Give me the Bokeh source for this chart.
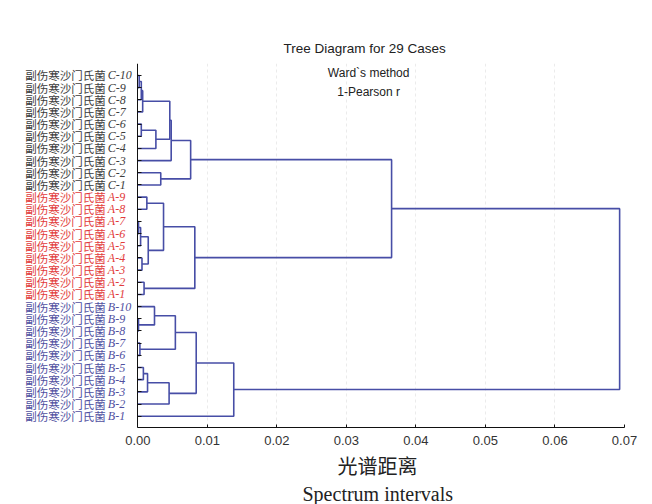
from bokeh.plotting import figure
from bokeh.models import (Range1d, FixedTicker, Label, NumeralTickFormatter, Title,
                          ColumnDataSource)
from bokeh.core.properties import value
from bokeh.embed import file_html
from bokeh.resources import INLINE

# ---------------- data ----------------
strain_name = "副伤寒沙门氏菌"
leaf_codes = ["C-10", "C-9", "C-8", "C-7", "C-6", "C-5", "C-4", "C-3", "C-2", "C-1",
              "A-9", "A-8", "A-7", "A-6", "A-5", "A-4", "A-3", "A-2", "A-1",
              "B-10", "B-9", "B-8", "B-7", "B-6", "B-5", "B-4", "B-3", "B-2", "B-1"]
group_colors = {"C": "#3c3c3c", "A": "#e23b3b", "B": "#50509f"}

# merge k joins merge_left[k] and merge_right[k] at merge_height[k]; "#k" = cluster from merge k
merge_left = ["C-10", "#0", "#1", "C-6", "#3", "#2", "#5", "C-2", "#6",
              "A-9", "A-7", "#10", "A-4", "#11", "#9", "A-2", "#14", "#8",
              "B-9", "B-10", "B-7", "#19", "B-5", "#22", "#23", "#21", "#25", "#17"]
merge_right = ["C-9", "C-8", "C-7", "C-5", "C-4", "#4", "C-3", "C-1", "#7",
               "A-8", "A-6", "A-5", "A-3", "#12", "#13", "A-1", "#15", "#16",
               "B-8", "#18", "B-6", "#20", "B-4", "B-3", "B-2", "#24", "B-1", "#26"]
merge_height = [0.0002, 0.0005, 0.0007, 0.0005, 0.0026, 0.0046, 0.0048, 0.0033, 0.0076,
                0.0013, 0.0001, 0.0004, 0.0006, 0.0015, 0.0037, 0.0009, 0.0082, 0.0365,
                0.0001, 0.0024, 0.0003, 0.0054, 0.0008, 0.0014, 0.0045, 0.0084, 0.0138, 0.0693]
x_ticks = [0.00, 0.01, 0.02, 0.03, 0.04, 0.05, 0.06, 0.07]

title_main = "Tree Diagram for 29 Cases"
title_sub = ["Ward`s method", "1-Pearson r"]
xlabel_cn = "光谱距离"
xlabel_en = "Spectrum intervals"

# ---------------- dendrogram geometry ----------------
pos = {c: float(i) for i, c in enumerate(leaf_codes)}
hgt = {c: 0.0 for c in leaf_codes}
xs, ys = [], []
for k, (a, b, h) in enumerate(zip(merge_left, merge_right, merge_height)):
    ya, yb = pos[a], pos[b]
    xs.append([hgt[a], h, h, hgt[b]])
    ys.append([ya, ya, yb, yb])
    pos["#%d" % k] = (ya + yb) / 2.0
    hgt["#%d" % k] = h

LINE = "#474ea6"
XMIN, XMAX = -0.01975, 0.07        # left part of the frame holds the leaf names
YB, YT = 28.93, -0.98

p = figure(width=652, height=504, output_backend="svg", toolbar_location=None,
           x_range=Range1d(XMIN, XMAX), y_range=Range1d(YB, YT),
           min_border_left=0, min_border_right=28, min_border_top=63,
           min_border_bottom=76)
p.outline_line_color = None
p.background_fill_color = "white"
p.border_fill_color = "white"

p.multi_line(xs=xs, ys=ys, line_color=LINE, line_width=1.6)

# leaf names
src = ColumnDataSource(dict(
    x=[0.0] * len(leaf_codes),
    y=list(range(len(leaf_codes))),
    name=[strain_name] * len(leaf_codes),
    code=leaf_codes,
    color=[group_colors[c[0]] for c in leaf_codes],
))
p.text(x="x", y="y", text="name", source=src, x_offset=-32, text_align="right",
       text_baseline="middle", text_font=value("Noto Sans CJK SC"),
       text_font_size="11.5px", text_color="color")
p.text(x="x", y="y", text="code", source=src, x_offset=-30, text_align="left",
       text_baseline="middle", text_font=value("Liberation Serif"), text_font_style="italic",
       text_font_size="12px", text_color="color")

# title
p.title.text = title_main
p.title.align = "left"
p.title.offset = 283
p.title.standoff = 16
p.title.text_font = "Liberation Sans"
p.title.text_font_size = "13.5px"
p.title.text_font_style = "normal"
p.title.text_color = "#222222"
for t, yy in zip(title_sub, [-0.16, 1.37]):
    p.add_layout(Label(x=0.0332, y=yy, text=t, text_align="center", text_baseline="alphabetic",
                       text_font="Liberation Sans", text_font_size="12px", text_color="#222222"))

# x axis
xa = p.xaxis[0]
xa.bounds = (0, XMAX)
xa.ticker = FixedTicker(ticks=x_ticks)
xa.formatter = NumeralTickFormatter(format="0.00")
xa.major_tick_in = 3
xa.major_tick_out = 0
xa.minor_tick_line_color = None
xa.axis_line_color = "#111111"
xa.major_tick_line_color = "#111111"
xa.major_label_text_font = "Liberation Sans"
xa.major_label_text_font_size = "13px"
xa.major_label_text_color = "#333333"
xa.major_label_standoff = 8

# x-axis titles (Chinese + English), centred under the axis
p.add_layout(Title(text=xlabel_cn, align="left", offset=337, standoff=2,
                   text_font="Noto Sans CJK SC", text_font_size="20px",
                   text_font_style="normal", text_color="#222222"), "below")
p.add_layout(Title(text=xlabel_en, align="left", offset=302, standoff=0,
                   text_font="Liberation Serif", text_font_size="20px",
                   text_font_style="normal", text_color="#222222"), "below")

# y axis placed at distance 0
ya_ = p.yaxis[0]
ya_.fixed_location = 0
ya_.ticker = FixedTicker(ticks=list(range(len(leaf_codes))))
ya_.major_label_overrides = {i: "" for i in range(len(leaf_codes))}
ya_.major_label_text_color = None
ya_.major_label_standoff = 0
ya_.major_tick_in = 4
ya_.major_tick_out = 0
ya_.minor_tick_line_color = None
ya_.axis_line_color = "#111111"
ya_.major_tick_line_color = "#111111"

p.ygrid.grid_line_color = None
p.xgrid.ticker = FixedTicker(ticks=x_ticks[1:-1])
p.xgrid.grid_line_color = "#ebebeb"
p.xgrid.grid_line_dash = "3 3"

open("out.html", "w").write(file_html(p, INLINE))
